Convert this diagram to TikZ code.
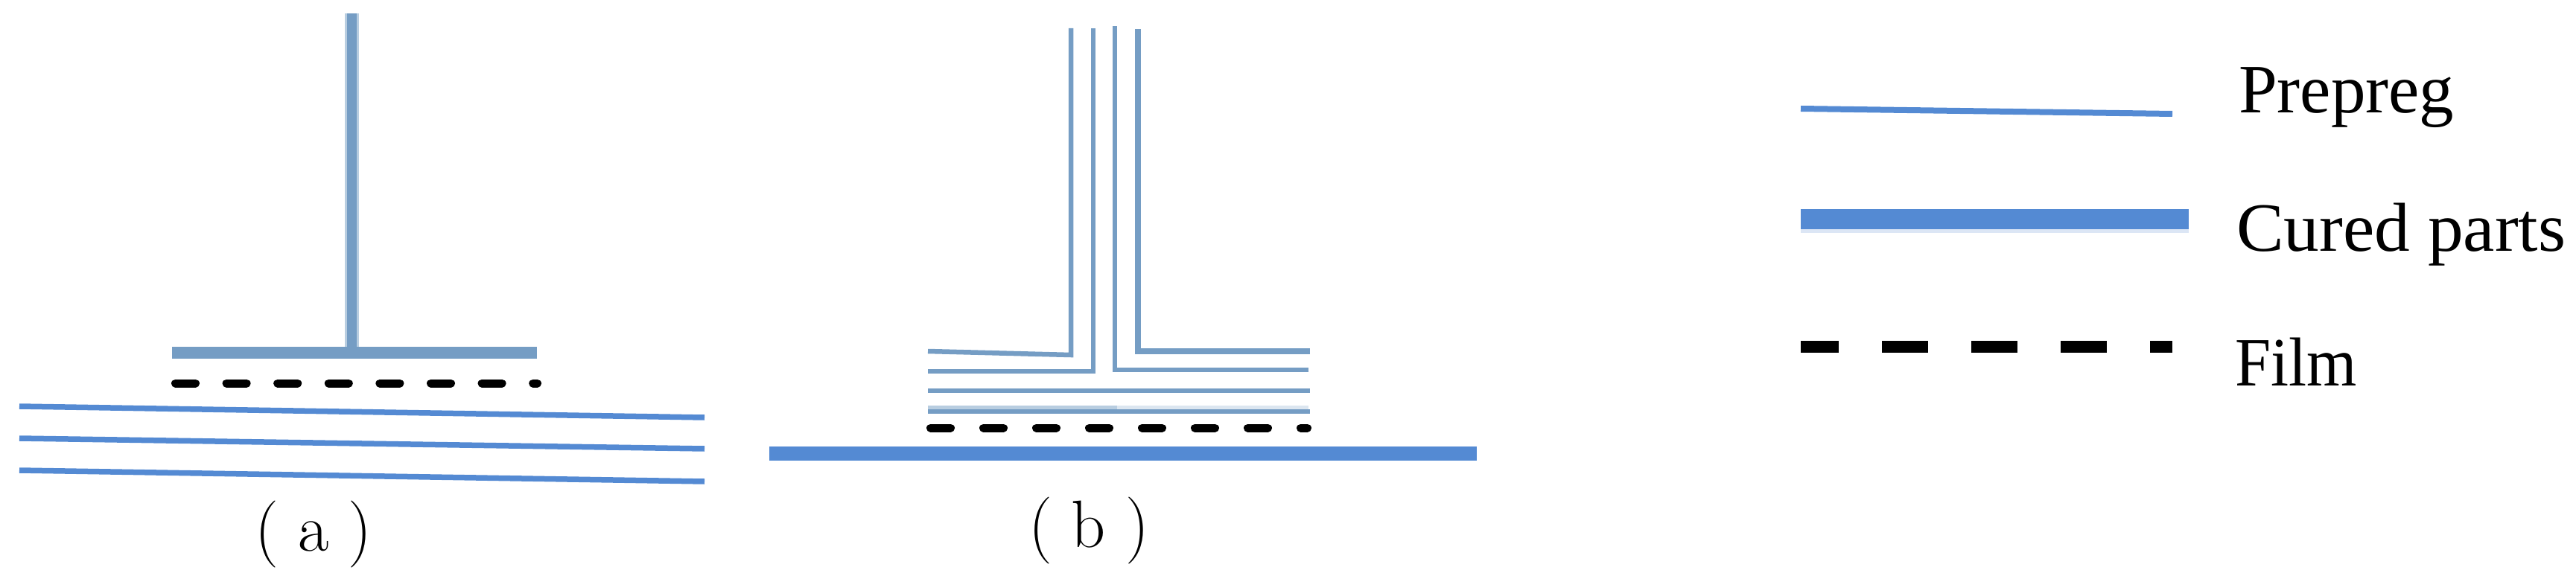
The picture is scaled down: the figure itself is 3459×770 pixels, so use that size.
\documentclass[tikz,border=0pt]{standalone}
\usepackage{fontspec}
\setmainfont{Liberation Serif}
\newfontfamily\capfont{Latin Modern Roman}
\definecolor{brightblue}{HTML}{548AD3}
\definecolor{paleblue}{HTML}{DCE6F5}
\definecolor{steelblue}{HTML}{759DC4}
\definecolor{steelpale}{HTML}{B8CDE0}
\definecolor{steelfaint}{HTML}{DCE6F0}
\tikzset{
  prepreg/.style={draw=brightblue,line width=7.5pt},
  ply/.style={draw=steelblue,line width=6.5pt,miter limit=10},
  filmline/.style={draw=black,line width=11pt,line cap=round},
  legendlabel/.style={inner sep=0pt,anchor=base west,font=\fontsize{93}{100}\selectfont},
  captionlabel/.style={inner sep=0pt,anchor=base,font=\capfont\fontsize{90}{96}\selectfont}
}
\begin{document}
\begin{tikzpicture}[x=1pt,y=-1pt]
\useasboundingbox (0,0) rectangle (3459,770);
% (a)
\fill[steelpale] (463,18) rectangle (482,466);
\fill[steelblue] (466,18) rectangle (479,466);
\fill[steelblue] (231,466) rectangle (721,482);
\draw[filmline,dash pattern=on 27pt off 41.6pt] (235.5,515) -- (721.5,515);
\draw[prepreg] (26,546) -- (946,561);
\draw[prepreg] (26,589) -- (946,603);
\draw[prepreg] (26,632) -- (946,647);
\node[captionlabel] (capa) at (421,740) {(\hspace{0.29em}a\hspace{0.29em})};
% (b)
\draw[ply] (1246,472) -- (1438,477) -- (1438,38);
\draw[ply] (1246,499) -- (1468,499) -- (1468,38);
\draw[ply] (1757,497) -- (1497,497) -- (1497,35);
\draw[ply,line width=8pt] (1759,472) -- (1528,472) -- (1528,39);
\draw[ply] (1246,525) -- (1759,525);
\fill[steelpale] (1246,545) rectangle (1500,550);
\fill[steelfaint] (1500,545) rectangle (1757,550);
\draw[ply] (1246,553) -- (1759,553);
\draw[filmline,dash pattern=on 27pt off 44pt] (1249.5,575) -- (1755.5,575);
\fill[brightblue] (1033,600) rectangle (1983,619);
\node[captionlabel] (capb) at (1462,735) {(\hspace{0.29em}b\hspace{0.29em})};
% legend
\draw[draw=brightblue,line width=8pt] (2418,146) -- (2917,153);
\fill[paleblue] (2418,308) rectangle (2939,313);
\fill[brightblue] (2418,281) rectangle (2939,308);
\draw[draw=black,line width=16pt,dash pattern=on 62pt off 58pt,dash phase=11pt] (2418,466) -- (2917,466);
\node[legendlabel] (lprepreg) at (3006,152) {Prepreg};
\node[legendlabel] (lcured) at (3003,337) {\scalebox{1.025}[1]{Cured parts}};
\node[legendlabel] (lfilm) at (3001,518) {\scalebox{0.93}[1]{Film}};
\end{tikzpicture}
\end{document}
